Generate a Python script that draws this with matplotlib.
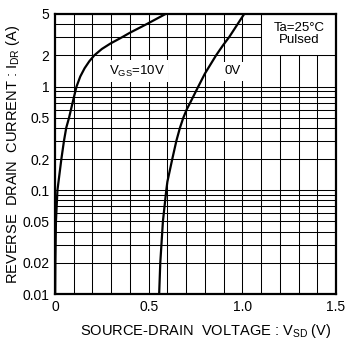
import matplotlib
matplotlib.use("Agg")
import matplotlib.pyplot as plt
from matplotlib.patches import Rectangle

plt.rcParams['font.family'] = ['Liberation Sans', 'DejaVu Sans']
plt.rcParams['mathtext.fontset'] = 'custom'
plt.rcParams['mathtext.rm'] = 'Liberation Sans'
plt.rcParams['mathtext.it'] = 'Liberation Sans'

# reverse drain current vs source-drain voltage, two gate biases
vsd_10v = [0.001, 0.002, 0.005, 0.013, 0.034, 0.048, 0.060, 0.075, 0.098, 0.115, 0.135,
           0.158, 0.183, 0.210, 0.250, 0.295, 0.360, 0.400, 0.490, 0.590]
idr_10v = [0.01, 0.02, 0.05, 0.1, 0.2, 0.3, 0.4, 0.5, 0.75, 1.0, 1.25,
           1.5, 1.75, 2.0, 2.3, 2.59, 3.0, 3.3, 4.0, 5.0]

vsd_0v = [0.556, 0.562, 0.576, 0.594, 0.600, 0.626, 0.648, 0.667, 0.685, 0.703, 0.722,
          0.765, 0.800, 0.860, 0.897, 0.930, 0.975, 1.010]
idr_0v = [0.01, 0.02, 0.05, 0.1, 0.121, 0.2, 0.3, 0.4, 0.5, 0.6, 0.7,
          1.0, 1.33, 2.0, 2.5, 3.0, 4.0, 5.0]

x_ticks = [0, 0.5, 1.0, 1.5]
x_ticklabels = ['0', '0.5', '1.0', '1.5']
y_ticks = [0.01, 0.02, 0.05, 0.1, 0.2, 0.5, 1, 2, 5]
y_ticklabels = ['0.01', '0.02', '0.05', '0.1', '0.2', '0.5', '1', '2', '5']

fig = plt.figure(figsize=(3.46, 3.41), dpi=100)
ax = fig.add_axes([55 / 346, 47 / 341, 281 / 346, 280 / 341])

ax.set_xlim(0, 1.5)
ax.set_yscale('log')
ax.set_ylim(0.01, 5)

# grid: every 0.1 V and every 1-9 step per decade
for i in range(1, 15):
    ax.axvline(i * 0.1, color='black', lw=0.75, zorder=1)
for dec in [0.01, 0.1, 1]:
    for m in range(1, 10):
        v = m * dec
        if 0.01 < v < 5:
            ax.axhline(v, color='black', lw=0.75, zorder=1)

ax.plot(vsd_10v, idr_10v, color='black', lw=1.6, zorder=3)
ax.plot(vsd_0v, idr_0v, color='black', lw=1.6, zorder=3)

ax.text(0.436, 1.4, r'V$_{\mathrm{GS}}$=10V', fontsize=9.5, ha='center', va='center', zorder=4,
        bbox=dict(facecolor='white', edgecolor='none', pad=2.5))
ax.text(0.947, 1.4, '0V', fontsize=9.5, ha='center', va='center', zorder=4,
        bbox=dict(facecolor='white', edgecolor='none', pad=2.5))

ax.add_patch(Rectangle((1.1, 2), 0.4, 3, facecolor='white', edgecolor='black', lw=0.75, zorder=2))
ax.text(1.305, 3.2, 'Ta=25°C\nPulsed', fontsize=9.5, ha='center', va='center', zorder=4,
        linespacing=1.0)

ax.set_xticks(x_ticks)
ax.set_xticklabels(x_ticklabels)
ax.set_yticks(y_ticks)
ax.set_yticklabels(y_ticklabels)
ax.yaxis.set_minor_locator(matplotlib.ticker.NullLocator())
ax.tick_params(length=0, labelsize=10, pad=4)

for s in ax.spines.values():
    s.set_linewidth(1.6)
    s.set_zorder(5)

ax.set_xlabel(r'SOURCE-DRAIN  VOLTAGE : V$_{\mathrm{SD}}$ (V)', fontsize=10.5)
ax.xaxis.set_label_coords(0.537, -0.10)
ax.set_ylabel(r'REVERSE  DRAIN  CURRENT : I$_{\mathrm{DR}}$ (A)', fontsize=10.5)
ax.yaxis.set_label_coords(-0.118, 0.5)

fig.savefig('out.png', dpi=100)
